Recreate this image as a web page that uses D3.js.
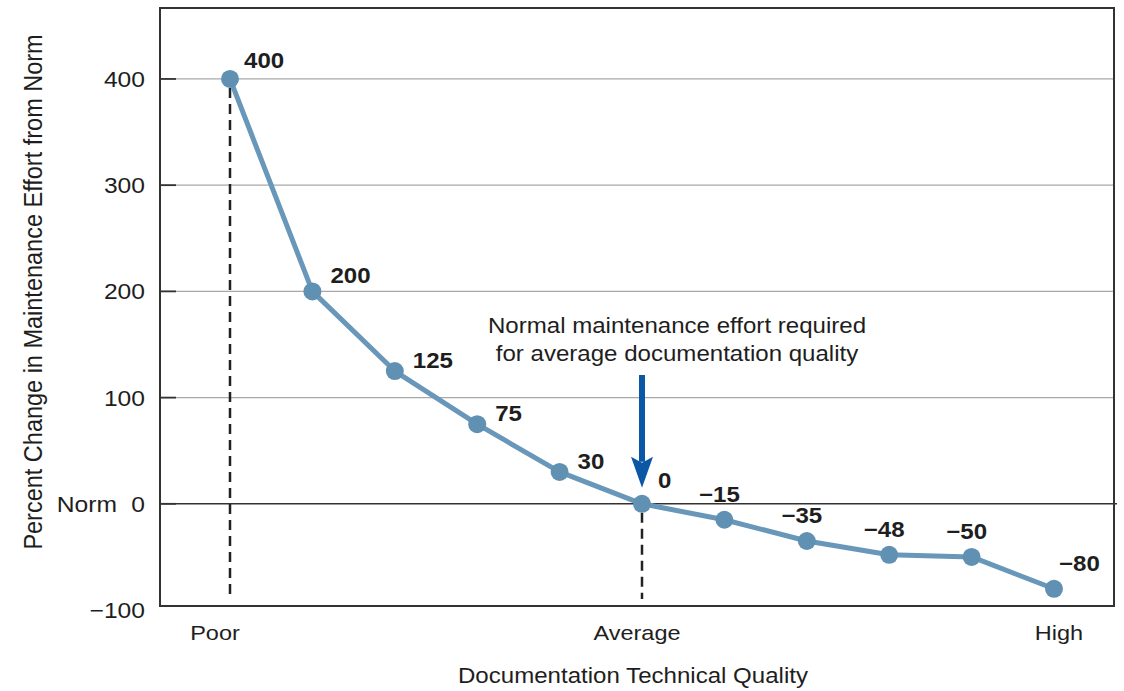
<!DOCTYPE html>
<html>
<head>
<meta charset="utf-8">
<script src="https://cdn.jsdelivr.net/npm/d3@7"></script>
<style>
  html, body { margin: 0; padding: 0; background: #fff; }
  svg { display: block; }
  text { font-family: "Liberation Sans", Arial, Helvetica, sans-serif; }
</style>
</head>
<body>
<svg id="chart" width="1124" height="691"></svg>
<script>
// ---- data ----
const levels = [1, 2, 3, 4, 5, 6, 7, 8, 9, 10, 11];
const values = [400, 200, 125, 75, 30, 0, -15, -35, -48, -50, -80];
const valueLabels = ["400", "200", "125", "75", "30", "0", "\u221215", "\u221235", "\u221248", "\u221250", "\u221280"];
const yTickValues = [-100, 0, 100, 200, 300, 400];
const yTickLabels = ["\u2212100", "0", "100", "200", "300", "400"];
const xTickLevels = [1, 6, 11];
const xTickLabels = ["Poor", "Average", "High"];
const dashedLevels = [1, 6];
const annotationLevel = 6;
const annotationLines = ["Normal maintenance effort required", "for average documentation quality"];
const yTitle = "Percent Change in Maintenance Effort from Norm";
const xTitle = "Documentation Technical Quality";
const normLabel = "Norm";

// ---- layout ----
const W = 1124, H = 691;
const margin = { top: 8, right: 10, bottom: 85, left: 160 };
const pL = margin.left, pR = W - margin.right, pT = margin.top, pB = H - margin.bottom;
const SX = 1.12; // horizontal text stretch
const ink = "#1e1e1e";

const svg = d3.select("#chart");

const x = d3.scalePoint().domain(levels).range([pL + 70, pR - 60]);
const y = d3.scaleLinear().domain([-96.2, 466.8]).range([pB, pT]);

function place(sel, tx, ty, rot) {
  return sel.attr("transform", (d, i) => {
    const X = typeof tx === "function" ? tx(d, i) : tx;
    const Y = typeof ty === "function" ? ty(d, i) : ty;
    return `translate(${X},${Y}) scale(${SX},1)` + (rot ? ` rotate(${rot})` : "");
  });
}

// gridlines
const gridVals = yTickValues.filter(v => v > 0);
svg.append("g").selectAll("line").data(gridVals).join("line")
  .attr("x1", pL).attr("x2", pR)
  .attr("y1", d => y(d)).attr("y2", d => y(d))
  .attr("stroke", "#a8a8a8").attr("stroke-width", 1.3);

// zero line
svg.append("line")
  .attr("x1", pL).attr("x2", pR + 3)
  .attr("y1", y(0)).attr("y2", y(0))
  .attr("stroke", "#333").attr("stroke-width", 1.6);

// tick marks (inside)
svg.append("g").selectAll("line").data(yTickValues.filter(v => v >= 0)).join("line")
  .attr("x1", pL).attr("x2", pL + 16)
  .attr("y1", d => y(d)).attr("y2", d => y(d))
  .attr("stroke", "#333").attr("stroke-width", 1.8);

// frame
svg.append("rect")
  .attr("x", pL).attr("y", pT)
  .attr("width", pR - pL).attr("height", pB - pT)
  .attr("fill", "none").attr("stroke", "#333").attr("stroke-width", 2);

// y tick labels
place(svg.append("g").selectAll("text").data(yTickValues).join("text")
  .attr("text-anchor", "end")
  .attr("font-size", 22)
  .attr("fill", ink)
  .text((d, i) => yTickLabels[i]), 145, d => y(d) + 8);

// Norm label
place(svg.append("text").datum(0)
  .attr("text-anchor", "end").attr("font-size", 22).attr("fill", ink)
  .text(normLabel), 117, d => y(d) + 8);

// y title
place(svg.append("text")
  .attr("text-anchor", "middle").attr("font-size", 23.5).attr("fill", ink)
  .text(yTitle), 42, 292, -90);

// x tick labels (spread slightly wider than the points)
place(svg.append("g").selectAll("text").data(xTickLevels).join("text")
  .attr("text-anchor", "middle").attr("font-size", 21).attr("fill", ink)
  .text((d, i) => xTickLabels[i]),
  (d, i) => x(d) - 15 + 20 * i / (xTickLevels.length - 1), pB + 34);

// x title
place(svg.append("text")
  .attr("text-anchor", "middle").attr("font-size", 21.5).attr("fill", ink)
  .text(xTitle), 633, pB + 77);

// dashed drop lines
svg.append("g").selectAll("line").data(dashedLevels).join("line")
  .attr("x1", d => x(d)).attr("x2", d => x(d))
  .attr("y1", d => y(values[levels.indexOf(d)]) + 9)
  .attr("y2", pB - 7)
  .attr("stroke", "#222").attr("stroke-width", 2.5)
  .attr("stroke-dasharray", "10,6");

// line
const pts = levels.map((l, i) => ({ l, v: values[i], lab: valueLabels[i], i }));
svg.append("path").datum(pts)
  .attr("fill", "none")
  .attr("stroke", "#6897b9")
  .attr("stroke-width", 5)
  .attr("stroke-linejoin", "round")
  .attr("d", d3.line().x(d => x(d.l)).y(d => y(d.v)));

// points
svg.append("g").selectAll("circle").data(pts).join("circle")
  .attr("cx", d => x(d.l)).attr("cy", d => y(d.v)).attr("r", 9)
  .attr("fill", "#6090b2");

// value labels
const last = pts.length - 1;
const lbl = svg.append("g").selectAll("text").data(pts).join("text")
  .attr("font-size", 21.5).attr("font-weight", "bold").attr("fill", ink)
  .attr("text-anchor", d => (d.v < 0 && d.i !== last) ? "middle" : "start")
  .text(d => d.lab);
place(lbl,
  d => x(d.l) + (d.v > 0 ? (d.i === 0 ? 14 : 18) : d.v === 0 ? 16 : d.i === last ? 5 : -5),
  d => y(d.v) + (d.v > 0 ? (d.i === 0 ? -11 : d.i === 1 ? -8 : -3) : d.v === 0 ? -16 : -18));

// annotation text
place(svg.append("g").selectAll("text").data(annotationLines).join("text")
  .attr("text-anchor", "middle").attr("font-size", 21.5).attr("fill", ink)
  .text(d => d), 677, (d, i) => 333 + i * 28);

// arrow
const ax = x(annotationLevel);
const tipY = y(0) - 16;
const shaftTop = 375;
svg.append("line")
  .attr("x1", ax).attr("x2", ax)
  .attr("y1", shaftTop).attr("y2", tipY - 26)
  .attr("stroke", "#0b57a6").attr("stroke-width", 6);
svg.append("path")
  .attr("d", `M${ax - 11},${tipY - 31} L${ax},${tipY} L${ax + 11},${tipY - 31} L${ax},${tipY - 25} Z`)
  .attr("fill", "#0b57a6");
</script>
</body>
</html>
